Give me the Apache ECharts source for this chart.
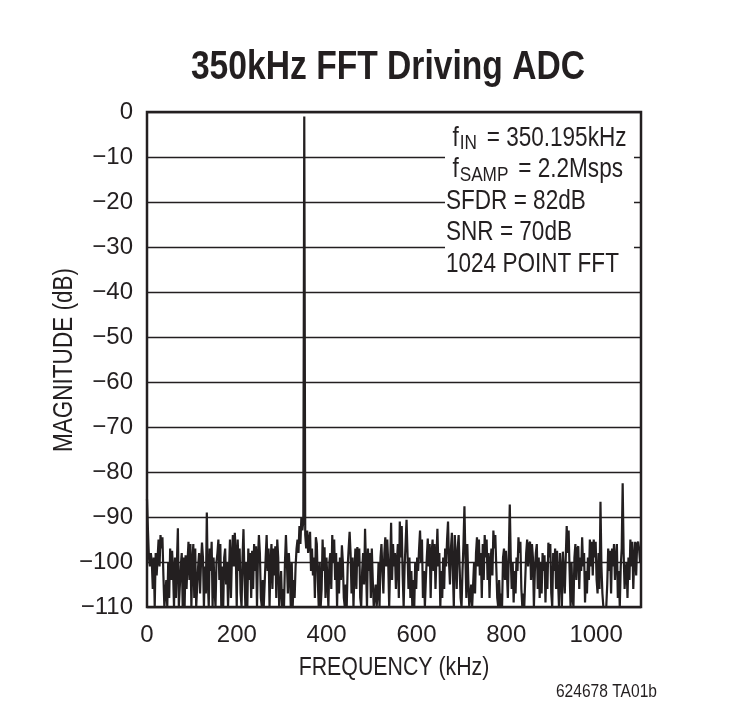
<!DOCTYPE html>
<html>
<head>
<meta charset="utf-8">
<script src="https://cdn.jsdelivr.net/npm/echarts@6/dist/echarts.min.js"></script>
<style>
  html, body { margin: 0; padding: 0; background: #fff; }
  #chart { width: 745px; height: 722px; }
</style>
</head>
<body>
<div id="chart"></div>
<script>
// ---------- data ----------
const chartTitle = '350kHz FFT Driving ADC';
const xAxisName = 'FREQUENCY (kHz)';
const yAxisName = 'MAGNITUDE (dB)';
const footnote = '624678 TA01b';
const xTicks = [0, 200, 400, 600, 800, 1000];
const xMax = 1100;
const yTicks = [0, -10, -20, -30, -40, -50, -60, -70, -80, -90, -100, -110];
const sampleRateKHz = 2200;   // fSAMP = 2.2Msps
const fftPoints = 1024;
const annotationLines = [
  ['f', 'IN', '= 350.195kHz'],
  ['f', 'SAMP', '= 2.2Msps'],
  ['SFDR = 82dB', '', ''],
  ['SNR = 70dB', '', ''],
  ['1024 POINT FFT', '', '']
];
// magnitude (dB) of each FFT bin
const magnitudeDb = [
  -86,-93,-99,-101,-98,-100,-106,-99,-110,-98,-103,-99,-95,-101,-94,-97,
  -94.5,-103,-110,-110,-104,-110,-100,-108,-97,-104,-97.5,-102,-110,-99,-108,-100,
  -92.5,-110,-110,-101,-98,-110,-99,-110,-98.5,-106,-100,-95.5,-104,-96,-110,-100,
  -96,-108,-97,-110,-110,-101,-98,-107,-100,-95.7,-99,-110,-101,-107,-89,-104,
  -110,-97,-102,-95.5,-110,-99,-106,-110,-100,-98,-95,-104,-96,-110,-101,-110,
  -99,-97,-105,-100,-110,-102,-95,-108,-99,-94,-101,-93.5,-98,-110,-95,-102,
  -97,-107,-110,-99,-92.7,-103,-110,-100,-110,-97,-104,-98,-108,-97.5,-106,-96,
  -102,-96.5,-110,-99,-94,-98,-108,-110,-104,-110,-110,-99,-94,-102,-97,-110,
  -100,-96,-106,-97,-103,-96.5,-108,-95,-99,-110,-110,-102,-110,-106,-110,-100,
  -94,-100,-107,-98,-102,-110,-100,-110,-104,-108,-101,-97,-95,-98,-92,-96,
  -90,-93,-91,-1,-94,-97,-93,-98,-95,-93.3,-102,-97,-103,-99,-108,-94.5,
  -96,-104,-110,-100,-110,-106,-95,-102,-96.7,-108,-99,-104,-110,-100,-98,-106,
  -94,-100,-95,-104,-98,-110,-100,-107,-99,-104,-96.3,-100,-108,-110,-105,-110,
  -101,-97,-93.3,-98,-107,-99,-110,-102,-97,-106,-96.7,-101,-97,-108,-110,-102,
  -98,-105,-92.6,-101,-110,-97,-102,-98,-108,-97,-104,-110,-110,-105,-110,-107,
  -100,-110,-99,-96,-102,-107,-98,-94.5,-101,-95,-100,-110,-101,-91.3,-104,-96,
  -101,-98,-106,-100,-96,-108,-91,-99,-92,-103,-110,-101,-96,-90.6,-98,-106,
  -99,-108,-102,-110,-104,-110,-100,-106,-99,-102,-97,-93,-100,-95,-108,-102,
  -110,-104,-99,-94.8,-101,-96,-108,-98,-95,-102,-96,-106,-99,-92.6,-101,-98,
  -110,-102,-108,-99,-106,-97,-101,-95,-91,-100,-105,-97,-93.5,-102,-110,-94,
  -99,-106,-97,-94,-101,-108,-110,-102,-96,-87.6,-99,-108,-96,-104,-110,-110,
  -105,-110,-110,-100,-107,-98,-94.5,-101,-95,-103,-98,-108,-96,-104,-94,-99,
  -95,-104,-98,-108,-100,-97,-103,-93,-97,-94,-101,-108,-110,-104,-110,-107,
  -110,-99,-97,-104,-97.5,-102,-108,-98,-87.2,-99,-106,-100,-109,-102,-107,-99,
  -102,-94.5,-98,-95.5,-106,-110,-107,-110,-104,-98,-95,-101,-96,-95.5,-104,-96,
  -99,-110,-102,-98,-96,-106,-99,-108,-100,-107,-98,-102,-98.5,-109,-100,-106,
  -95.7,-99,-96,-107,-110,-98,-102,-97,-106,-97.5,-104,-110,-98,-102,-110,-97.7,
  -102,-107,-99,-92,-98,-93,-102,-110,-100,-108,-110,-99,-96,-104,-97,-96.5,
  -106,-99,-102,-94.5,-101,-98,-109,-102,-107,-99,-104,-95,-101,-95.5,-103,-95,
  -99,-95.5,-104,-107,-98,-106,-86.6,-101,-107,-110,-110,-110,-110,-105,-97,-102,
  -97.5,-107,-97,-101,-96,-104,-99,-96,-108,-102,-110,-101,-97,-82.5,-98,-106,
  -102,-100,-108,-99,-104,-95,-101,-95.5,-106,-99,-95.5,-103,-96,-95.5,-97,-100
];

// ---------- chart ----------
const INK = '#231f20';
const SANS = "'Liberation Sans', Arial, Helvetica, sans-serif";
const NARROW_SCALE = 0.82;   // Helvetica-Narrow look from Liberation Sans
const binWidth = sampleRateKHz / fftPoints;
const seriesData = magnitudeDb.map((v, i) => [i * binWidth, v]);
const minus = v => (v < 0 ? '\u2212' + Math.abs(v) : String(v));

const chart = echarts.init(document.getElementById('chart'), null, { renderer: 'canvas' });

const annTop = 138, annStep = 31.5, annLeft = 446;
const annTexts = annotationLines.map((ln, k) => {
  const txt = ln[1]
    ? '{f|' + ln[0] + '}{s|' + ln[1] + '}{m|' + ln[2] + '}'
    : '{m|' + ln[0] + '}';
  return {
    type: 'text',
    z: 20,
    x: annLeft,
    y: annTop + k * annStep,
    scaleX: NARROW_SCALE,
    style: {
      text: txt,
      x: 0, y: 0,
      align: 'left',
      verticalAlign: 'middle',
      fill: INK,
      rich: {
        f: { fontFamily: SANS, fontSize: 27.5, lineHeight: 32, fill: INK, verticalAlign: 'middle', padding: [0, 1, 0, 8] },
        m: { fontFamily: SANS, fontSize: 27.5, lineHeight: 32, fill: INK, verticalAlign: 'middle' },
        s: { fontFamily: SANS, fontSize: 21, lineHeight: 18, fill: INK, verticalAlign: 'bottom', padding: [0, 12, 0, 0] }
      }
    }
  };
});

chart.setOption({
  animation: false,
  backgroundColor: '#fff',
  grid: {
    left: 147, right: 104, top: 112, bottom: 115,
    show: true, borderColor: INK, borderWidth: 2.5, backgroundColor: 'transparent'
  },
  xAxis: {
    type: 'value',
    min: xTicks[0], max: xMax, interval: xTicks[1] - xTicks[0],
    axisLine: { show: false },
    axisTick: { show: false },
    splitLine: { show: false },
    axisLabel: {
      fontFamily: SANS, fontSize: 24, color: INK, margin: 16, showMaxLabel: false,
      formatter: v => String(v)
    }
  },
  yAxis: {
    type: 'value',
    min: yTicks[yTicks.length - 1], max: yTicks[0], interval: 10,
    axisLine: { show: false },
    axisTick: { show: false },
    splitLine: { show: true, lineStyle: { color: INK, width: 1.4 } },
    axisLabel: { fontFamily: SANS, fontSize: 24, color: INK, margin: 14, formatter: minus }
  },
  series: [{
    type: 'line',
    data: seriesData,
    showSymbol: false,
    symbol: 'none',
    clip: true,
    lineStyle: { color: INK, width: 2.2 },
    z: 5
  }],
  graphic: [
    {
      type: 'text', z: 20, x: 388, y: 68, scaleX: NARROW_SCALE,
      style: { text: chartTitle, x: 0, y: 0, align: 'center', verticalAlign: 'middle',
               fontFamily: SANS, fontWeight: 'bold', fontSize: 41, fill: INK }
    },
    {
      type: 'text', z: 20, x: 394, y: 668, scaleX: NARROW_SCALE,
      style: { text: xAxisName, x: 0, y: 0, align: 'center', verticalAlign: 'middle',
               fontFamily: SANS, fontSize: 26, fill: INK }
    },
    {
      type: 'text', z: 20, x: 64, y: 360, rotation: Math.PI / 2, scaleX: NARROW_SCALE,
      style: { text: yAxisName, x: 0, y: 0, align: 'center', verticalAlign: 'middle',
               fontFamily: SANS, fontSize: 27.5, fill: INK }
    },
    { type: 'rect', z: 15, shape: { x: 445, y: 118, width: 189, height: 158 }, style: { fill: '#fff' } },
    ...annTexts,
    {
      type: 'text', z: 20, x: 657, y: 692, scaleX: NARROW_SCALE,
      style: { text: footnote, x: 0, y: 0, align: 'right', verticalAlign: 'middle',
               fontFamily: SANS, fontSize: 19, fill: INK }
    }
  ]
});
</script>
</body>
</html>
